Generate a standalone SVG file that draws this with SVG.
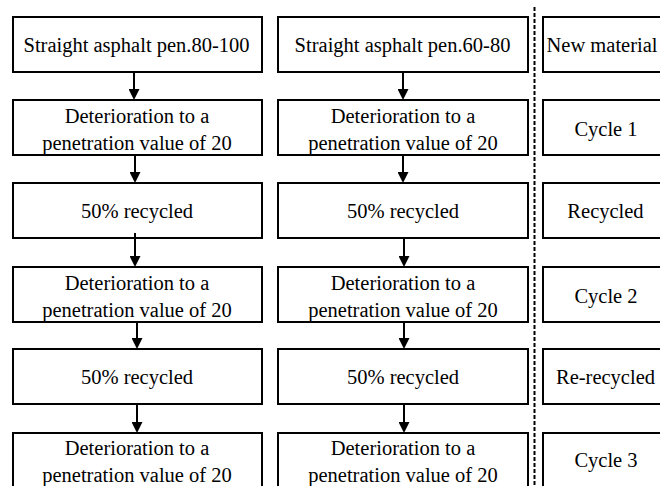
<svg xmlns="http://www.w3.org/2000/svg" width="660" height="486" viewBox="0 0 660 486">
<style>
  .box { fill: #fff; stroke: #000; stroke-width: 2; }
  text { font-family: 'Liberation Serif', 'DejaVu Serif', serif; font-size: 20.5px; fill: #000; text-anchor: middle; }
  .arr { stroke: #000; stroke-width: 2; fill: none; marker-end: url(#ah); }
  .sep { stroke: #000; stroke-width: 2; stroke-dasharray: 4 2; fill: none; }
</style>
<defs>
  <marker id="ah" viewBox="0 0 11 11" refX="6" refY="5.5" markerWidth="11" markerHeight="11" markerUnits="userSpaceOnUse" orient="auto">
    <path d="M0,0 L11,5.5 L0,11 z" fill="#000"/>
  </marker>
</defs>
<rect width="660" height="486" fill="#fff"/>

<line class="sep" x1="534.5" y1="7" x2="534.5" y2="486"/>

<g font-family="Liberation Serif, DejaVu Serif, serif">
<g id="a1"><rect class="box" x="13" y="17" width="249" height="55"/><text x="136.5" y="52">Straight asphalt pen.80-100</text></g>
<g id="a2"><rect class="box" x="13" y="100" width="249" height="55"/><text x="137" y="123">Deterioration to a</text><text x="137" y="150">penetration value of 20</text></g>
<g id="a3"><rect class="box" x="13" y="183" width="249" height="55"/><text x="137" y="218">50% recycled</text></g>
<g id="a4"><rect class="box" x="13" y="267" width="249" height="55"/><text x="137" y="290">Deterioration to a</text><text x="137" y="317">penetration value of 20</text></g>
<g id="a5"><rect class="box" x="13" y="349" width="249" height="55"/><text x="137" y="384">50% recycled</text></g>
<g id="a6"><rect class="box" x="13" y="433" width="249" height="60"/><text x="137" y="455">Deterioration to a</text><text x="137" y="482">penetration value of 20</text></g>

<g id="b1"><rect class="box" x="278" y="17" width="250" height="55"/><text x="402.5" y="52">Straight asphalt pen.60-80</text></g>
<g id="b2"><rect class="box" x="278" y="100" width="250" height="55"/><text x="403" y="123">Deterioration to a</text><text x="403" y="150">penetration value of 20</text></g>
<g id="b3"><rect class="box" x="278" y="183" width="250" height="55"/><text x="403" y="218">50% recycled</text></g>
<g id="b4"><rect class="box" x="278" y="267" width="250" height="55"/><text x="403" y="290">Deterioration to a</text><text x="403" y="317">penetration value of 20</text></g>
<g id="b5"><rect class="box" x="278" y="349" width="250" height="55"/><text x="403" y="384">50% recycled</text></g>
<g id="b6"><rect class="box" x="278" y="433" width="250" height="60"/><text x="403" y="455">Deterioration to a</text><text x="403" y="482">penetration value of 20</text></g>

<g id="c1"><rect class="box" x="543" y="17" width="130" height="55"/><text x="602" y="52">New material</text></g>
<g id="c2"><rect class="box" x="543" y="100" width="130" height="55"/><text x="606" y="136">Cycle 1</text></g>
<g id="c3"><rect class="box" x="543" y="183" width="130" height="55"/><text x="605.5" y="218">Recycled</text></g>
<g id="c4"><rect class="box" x="543" y="267" width="130" height="55"/><text x="606" y="303">Cycle 2</text></g>
<g id="c5"><rect class="box" x="543" y="349" width="130" height="55"/><text x="605.5" y="384">Re-recycled</text></g>
<g id="c6"><rect class="box" x="543" y="433" width="130" height="60"/><text x="606" y="467">Cycle 3</text></g>
</g>

<g id="connectors">
  <line class="arr" x1="134" y1="72" x2="134" y2="95"/>
  <line class="arr" x1="135" y1="155" x2="135" y2="178"/>
  <line class="arr" x1="135" y1="233" x2="135" y2="262"/>
  <line class="arr" x1="137" y1="322" x2="137" y2="344"/>
  <line class="arr" x1="137" y1="404" x2="137" y2="428"/>
  <line class="arr" x1="403" y1="72" x2="403" y2="95"/>
  <line class="arr" x1="403" y1="155" x2="403" y2="178"/>
  <line class="arr" x1="404" y1="238" x2="404" y2="262"/>
  <line class="arr" x1="404" y1="322" x2="404" y2="344"/>
  <line class="arr" x1="404" y1="404" x2="404" y2="428"/>
</g>
</svg>
